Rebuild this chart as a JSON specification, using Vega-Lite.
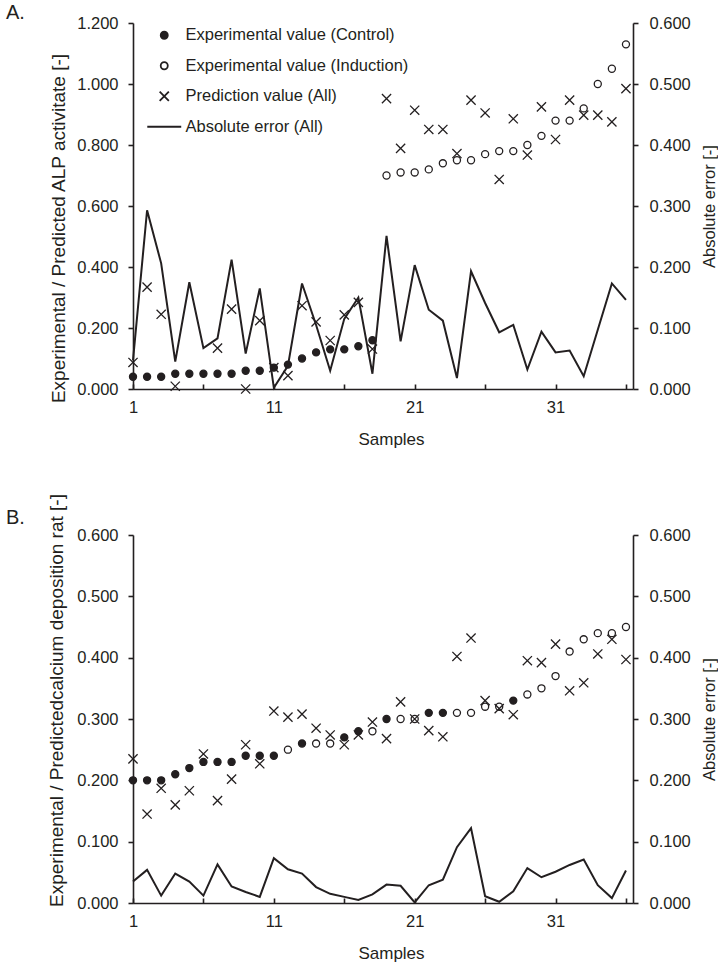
{
  "$schema": "https://vega.github.io/schema/vega-lite/v6.json",
  "padding": {"left": 5, "top": 3, "right": 0, "bottom": 0},
  "background": "white",
  "config": {
    "view": {"stroke": null},
    "font": "Liberation Sans",
    "axis": {
      "grid": false,
      "domainColor": "#231f20",
      "domainWidth": 1.6,
      "tickColor": "#231f20",
      "tickWidth": 1.6,
      "labelColor": "#231f20",
      "titleColor": "#231f20",
      "labelFont": "Liberation Sans",
      "titleFont": "Liberation Sans",
      "labelFontSize": 16.5,
      "titleFontSize": 17,
      "titleFontWeight": "normal",
      "labelFlush": false,
      "labelOverlap": false
    },
    "legend": {
      "orient": "none",
      "legendX": 23,
      "legendY": 4,
      "padding": 0,
      "labelFont": "Liberation Sans",
      "labelFontSize": 16.5,
      "labelColor": "#231f20",
      "labelLimit": 400,
      "labelOffset": 13,
      "rowPadding": 13.5,
      "symbolSize": 50,
      "symbolStrokeColor": "#231f20",
      "symbolStrokeWidth": 1.8
    },
    "title": {"font": "Liberation Sans", "fontSize": 20, "fontWeight": "normal", "color": "#231f20", "anchor": "start", "frame": "bounds"}
  },
  "datasets": {
    "A_points": [
      {"sample": 1, "series": "Experimental value (Control)", "value": 0.04},
      {"sample": 2, "series": "Experimental value (Control)", "value": 0.04},
      {"sample": 3, "series": "Experimental value (Control)", "value": 0.04},
      {"sample": 4, "series": "Experimental value (Control)", "value": 0.05},
      {"sample": 5, "series": "Experimental value (Control)", "value": 0.05},
      {"sample": 6, "series": "Experimental value (Control)", "value": 0.05},
      {"sample": 7, "series": "Experimental value (Control)", "value": 0.05},
      {"sample": 8, "series": "Experimental value (Control)", "value": 0.05},
      {"sample": 9, "series": "Experimental value (Control)", "value": 0.06},
      {"sample": 10, "series": "Experimental value (Control)", "value": 0.06},
      {"sample": 11, "series": "Experimental value (Control)", "value": 0.07},
      {"sample": 12, "series": "Experimental value (Control)", "value": 0.08},
      {"sample": 13, "series": "Experimental value (Control)", "value": 0.10},
      {"sample": 14, "series": "Experimental value (Control)", "value": 0.12},
      {"sample": 15, "series": "Experimental value (Control)", "value": 0.13},
      {"sample": 16, "series": "Experimental value (Control)", "value": 0.13},
      {"sample": 17, "series": "Experimental value (Control)", "value": 0.14},
      {"sample": 18, "series": "Experimental value (Control)", "value": 0.16},
      {"sample": 19, "series": "Experimental value (Induction)", "value": 0.70},
      {"sample": 20, "series": "Experimental value (Induction)", "value": 0.71},
      {"sample": 21, "series": "Experimental value (Induction)", "value": 0.71},
      {"sample": 22, "series": "Experimental value (Induction)", "value": 0.72},
      {"sample": 23, "series": "Experimental value (Induction)", "value": 0.74},
      {"sample": 24, "series": "Experimental value (Induction)", "value": 0.75},
      {"sample": 25, "series": "Experimental value (Induction)", "value": 0.75},
      {"sample": 26, "series": "Experimental value (Induction)", "value": 0.77},
      {"sample": 27, "series": "Experimental value (Induction)", "value": 0.78},
      {"sample": 28, "series": "Experimental value (Induction)", "value": 0.78},
      {"sample": 29, "series": "Experimental value (Induction)", "value": 0.80},
      {"sample": 30, "series": "Experimental value (Induction)", "value": 0.83},
      {"sample": 31, "series": "Experimental value (Induction)", "value": 0.88},
      {"sample": 32, "series": "Experimental value (Induction)", "value": 0.88},
      {"sample": 33, "series": "Experimental value (Induction)", "value": 0.92},
      {"sample": 34, "series": "Experimental value (Induction)", "value": 1.00},
      {"sample": 35, "series": "Experimental value (Induction)", "value": 1.05},
      {"sample": 36, "series": "Experimental value (Induction)", "value": 1.13},
      {"sample": 1, "series": "Prediction value (All)", "value": 0.087},
      {"sample": 2, "series": "Prediction value (All)", "value": 0.334},
      {"sample": 3, "series": "Prediction value (All)", "value": 0.245},
      {"sample": 4, "series": "Prediction value (All)", "value": 0.009},
      {"sample": 5, "series": "Prediction value (All)", "value": -0.125},
      {"sample": 6, "series": "Prediction value (All)", "value": -0.017},
      {"sample": 7, "series": "Prediction value (All)", "value": 0.134},
      {"sample": 8, "series": "Prediction value (All)", "value": 0.262},
      {"sample": 9, "series": "Prediction value (All)", "value": 0.0},
      {"sample": 10, "series": "Prediction value (All)", "value": 0.224},
      {"sample": 11, "series": "Prediction value (All)", "value": 0.07},
      {"sample": 12, "series": "Prediction value (All)", "value": 0.044},
      {"sample": 13, "series": "Prediction value (All)", "value": 0.273},
      {"sample": 14, "series": "Prediction value (All)", "value": 0.22},
      {"sample": 15, "series": "Prediction value (All)", "value": 0.159},
      {"sample": 16, "series": "Prediction value (All)", "value": 0.243},
      {"sample": 17, "series": "Prediction value (All)", "value": 0.284},
      {"sample": 18, "series": "Prediction value (All)", "value": 0.131},
      {"sample": 19, "series": "Prediction value (All)", "value": 0.952},
      {"sample": 20, "series": "Prediction value (All)", "value": 0.789},
      {"sample": 21, "series": "Prediction value (All)", "value": 0.914},
      {"sample": 22, "series": "Prediction value (All)", "value": 0.851},
      {"sample": 23, "series": "Prediction value (All)", "value": 0.851},
      {"sample": 24, "series": "Prediction value (All)", "value": 0.772},
      {"sample": 25, "series": "Prediction value (All)", "value": 0.947},
      {"sample": 26, "series": "Prediction value (All)", "value": 0.905},
      {"sample": 27, "series": "Prediction value (All)", "value": 0.687},
      {"sample": 28, "series": "Prediction value (All)", "value": 0.886},
      {"sample": 29, "series": "Prediction value (All)", "value": 0.767},
      {"sample": 30, "series": "Prediction value (All)", "value": 0.925},
      {"sample": 31, "series": "Prediction value (All)", "value": 0.818},
      {"sample": 32, "series": "Prediction value (All)", "value": 0.947},
      {"sample": 33, "series": "Prediction value (All)", "value": 0.898},
      {"sample": 34, "series": "Prediction value (All)", "value": 0.898},
      {"sample": 35, "series": "Prediction value (All)", "value": 0.876},
      {"sample": 36, "series": "Prediction value (All)", "value": 0.985}
    ],
    "A_error": [
      {"sample": 1, "error": 0.047}, {"sample": 2, "error": 0.293}, {"sample": 3, "error": 0.206},
      {"sample": 4, "error": 0.045}, {"sample": 5, "error": 0.175}, {"sample": 6, "error": 0.067},
      {"sample": 7, "error": 0.083}, {"sample": 8, "error": 0.212}, {"sample": 9, "error": 0.058},
      {"sample": 10, "error": 0.165}, {"sample": 11, "error": 0.002}, {"sample": 12, "error": 0.038},
      {"sample": 13, "error": 0.173}, {"sample": 14, "error": 0.105}, {"sample": 15, "error": 0.030},
      {"sample": 16, "error": 0.115}, {"sample": 17, "error": 0.150}, {"sample": 18, "error": 0.025},
      {"sample": 19, "error": 0.251}, {"sample": 20, "error": 0.078}, {"sample": 21, "error": 0.203},
      {"sample": 22, "error": 0.130}, {"sample": 23, "error": 0.112}, {"sample": 24, "error": 0.018},
      {"sample": 25, "error": 0.193}, {"sample": 26, "error": 0.141}, {"sample": 27, "error": 0.093},
      {"sample": 28, "error": 0.105}, {"sample": 29, "error": 0.032}, {"sample": 30, "error": 0.094},
      {"sample": 31, "error": 0.060}, {"sample": 32, "error": 0.063}, {"sample": 33, "error": 0.021},
      {"sample": 34, "error": 0.097}, {"sample": 35, "error": 0.173}, {"sample": 36, "error": 0.146}
    ],
    "B_points": [
      {"sample": 1, "series": "Experimental value (Control)", "value": 0.20},
      {"sample": 2, "series": "Experimental value (Control)", "value": 0.20},
      {"sample": 3, "series": "Experimental value (Control)", "value": 0.20},
      {"sample": 4, "series": "Experimental value (Control)", "value": 0.21},
      {"sample": 5, "series": "Experimental value (Control)", "value": 0.22},
      {"sample": 6, "series": "Experimental value (Control)", "value": 0.23},
      {"sample": 7, "series": "Experimental value (Control)", "value": 0.23},
      {"sample": 8, "series": "Experimental value (Control)", "value": 0.23},
      {"sample": 9, "series": "Experimental value (Control)", "value": 0.24},
      {"sample": 10, "series": "Experimental value (Control)", "value": 0.24},
      {"sample": 11, "series": "Experimental value (Control)", "value": 0.24},
      {"sample": 12, "series": "Experimental value (Induction)", "value": 0.25},
      {"sample": 13, "series": "Experimental value (Control)", "value": 0.26},
      {"sample": 14, "series": "Experimental value (Induction)", "value": 0.26},
      {"sample": 15, "series": "Experimental value (Induction)", "value": 0.26},
      {"sample": 16, "series": "Experimental value (Control)", "value": 0.27},
      {"sample": 17, "series": "Experimental value (Control)", "value": 0.28},
      {"sample": 18, "series": "Experimental value (Induction)", "value": 0.28},
      {"sample": 19, "series": "Experimental value (Control)", "value": 0.30},
      {"sample": 20, "series": "Experimental value (Induction)", "value": 0.30},
      {"sample": 21, "series": "Experimental value (Induction)", "value": 0.30},
      {"sample": 22, "series": "Experimental value (Control)", "value": 0.31},
      {"sample": 23, "series": "Experimental value (Control)", "value": 0.31},
      {"sample": 24, "series": "Experimental value (Induction)", "value": 0.31},
      {"sample": 25, "series": "Experimental value (Induction)", "value": 0.31},
      {"sample": 26, "series": "Experimental value (Induction)", "value": 0.32},
      {"sample": 27, "series": "Experimental value (Induction)", "value": 0.32},
      {"sample": 28, "series": "Experimental value (Control)", "value": 0.33},
      {"sample": 29, "series": "Experimental value (Induction)", "value": 0.34},
      {"sample": 30, "series": "Experimental value (Induction)", "value": 0.35},
      {"sample": 31, "series": "Experimental value (Induction)", "value": 0.37},
      {"sample": 32, "series": "Experimental value (Induction)", "value": 0.41},
      {"sample": 33, "series": "Experimental value (Induction)", "value": 0.43},
      {"sample": 34, "series": "Experimental value (Induction)", "value": 0.44},
      {"sample": 35, "series": "Experimental value (Induction)", "value": 0.44},
      {"sample": 36, "series": "Experimental value (Induction)", "value": 0.45},
      {"sample": 1, "series": "Prediction value (All)", "value": 0.235},
      {"sample": 2, "series": "Prediction value (All)", "value": 0.145},
      {"sample": 3, "series": "Prediction value (All)", "value": 0.187},
      {"sample": 4, "series": "Prediction value (All)", "value": 0.160},
      {"sample": 5, "series": "Prediction value (All)", "value": 0.183},
      {"sample": 6, "series": "Prediction value (All)", "value": 0.243},
      {"sample": 7, "series": "Prediction value (All)", "value": 0.167},
      {"sample": 8, "series": "Prediction value (All)", "value": 0.202},
      {"sample": 9, "series": "Prediction value (All)", "value": 0.258},
      {"sample": 10, "series": "Prediction value (All)", "value": 0.227},
      {"sample": 11, "series": "Prediction value (All)", "value": 0.313},
      {"sample": 12, "series": "Prediction value (All)", "value": 0.303},
      {"sample": 13, "series": "Prediction value (All)", "value": 0.308},
      {"sample": 14, "series": "Prediction value (All)", "value": 0.285},
      {"sample": 15, "series": "Prediction value (All)", "value": 0.274},
      {"sample": 16, "series": "Prediction value (All)", "value": 0.258},
      {"sample": 17, "series": "Prediction value (All)", "value": 0.274},
      {"sample": 18, "series": "Prediction value (All)", "value": 0.295},
      {"sample": 19, "series": "Prediction value (All)", "value": 0.268},
      {"sample": 20, "series": "Prediction value (All)", "value": 0.328},
      {"sample": 21, "series": "Prediction value (All)", "value": 0.300},
      {"sample": 22, "series": "Prediction value (All)", "value": 0.281},
      {"sample": 23, "series": "Prediction value (All)", "value": 0.271},
      {"sample": 24, "series": "Prediction value (All)", "value": 0.402},
      {"sample": 25, "series": "Prediction value (All)", "value": 0.432},
      {"sample": 26, "series": "Prediction value (All)", "value": 0.330},
      {"sample": 27, "series": "Prediction value (All)", "value": 0.317},
      {"sample": 28, "series": "Prediction value (All)", "value": 0.307},
      {"sample": 29, "series": "Prediction value (All)", "value": 0.395},
      {"sample": 30, "series": "Prediction value (All)", "value": 0.392},
      {"sample": 31, "series": "Prediction value (All)", "value": 0.422},
      {"sample": 32, "series": "Prediction value (All)", "value": 0.346},
      {"sample": 33, "series": "Prediction value (All)", "value": 0.359},
      {"sample": 34, "series": "Prediction value (All)", "value": 0.406},
      {"sample": 35, "series": "Prediction value (All)", "value": 0.430},
      {"sample": 36, "series": "Prediction value (All)", "value": 0.397}
    ],
    "B_error": [
      {"sample": 1, "error": 0.035}, {"sample": 2, "error": 0.054}, {"sample": 3, "error": 0.012},
      {"sample": 4, "error": 0.048}, {"sample": 5, "error": 0.035}, {"sample": 6, "error": 0.012},
      {"sample": 7, "error": 0.063}, {"sample": 8, "error": 0.027}, {"sample": 9, "error": 0.018},
      {"sample": 10, "error": 0.010}, {"sample": 11, "error": 0.073}, {"sample": 12, "error": 0.055},
      {"sample": 13, "error": 0.048}, {"sample": 14, "error": 0.026}, {"sample": 15, "error": 0.015},
      {"sample": 16, "error": 0.010}, {"sample": 17, "error": 0.005}, {"sample": 18, "error": 0.014},
      {"sample": 19, "error": 0.030}, {"sample": 20, "error": 0.028}, {"sample": 21, "error": 0.001},
      {"sample": 22, "error": 0.029}, {"sample": 23, "error": 0.038}, {"sample": 24, "error": 0.091},
      {"sample": 25, "error": 0.122}, {"sample": 26, "error": 0.011}, {"sample": 27, "error": 0.002},
      {"sample": 28, "error": 0.019}, {"sample": 29, "error": 0.057}, {"sample": 30, "error": 0.042},
      {"sample": 31, "error": 0.051}, {"sample": 32, "error": 0.062}, {"sample": 33, "error": 0.071},
      {"sample": 34, "error": 0.029}, {"sample": 35, "error": 0.008}, {"sample": 36, "error": 0.053}
    ]
  },
  "spacing": 45,
  "vconcat": [
    {
      "width": 500,
      "height": 366,
      "title": {"text": "A.", "dx": -43, "offset": -8},
      "layer": [
        {
          "data": {"name": "A_points"},
          "transform": [{"filter": "datum.value >= -0.005"}],
          "mark": {"type": "point", "filled": true, "size": 50, "strokeWidth": 1.3, "opacity": 1},
          "encoding": {
            "x": {"field": "sample", "type": "quantitative",
              "scale": {"domain": [1, 36.5], "nice": false, "zero": false},
              "axis": {"values": [1, 6, 11, 16, 21, 26, 31, 36], "labelExpr": "datum.value % 10 == 1 ? datum.label : ''", "tickSize": -5, "labelPadding": 15, "title": "Samples", "titleX": 258, "titlePadding": 16}},
            "y": {"field": "value", "type": "quantitative",
              "scale": {"domain": [0, 1.2], "nice": false},
              "axis": {"values": [0, 0.2, 0.4, 0.6, 0.8, 1.0, 1.2], "format": ".3f", "tickSize": 5, "labelPadding": 10, "title": "Experimental / Predicted ALP activitate [-]", "titleFontSize": 19, "titleX": -75, "titleY": 205, "titleBaseline": "middle", "titleAngle": -90}},
            "shape": {"field": "series", "type": "nominal",
              "scale": {"domain": ["Experimental value (Control)", "Experimental value (Induction)", "Prediction value (All)", "Absolute error (All)"],
                "range": ["circle", "circle", "M-1.3,-1.3L1.3,1.3M-1.3,1.3L1.3,-1.3", "M-4.8,0H4.8"]},
              "legend": {"title": null}},
            "fill": {"field": "series", "type": "nominal",
              "scale": {"domain": ["Experimental value (Control)", "Experimental value (Induction)", "Prediction value (All)", "Absolute error (All)"],
                "range": ["#231f20", "transparent", "transparent", "transparent"]},
              "legend": {"title": null}},
            "stroke": {"field": "series", "type": "nominal",
              "scale": {"domain": ["Experimental value (Control)", "Experimental value (Induction)", "Prediction value (All)", "Absolute error (All)"],
                "range": ["#231f20", "#231f20", "#231f20", "#231f20"]},
              "legend": {"title": null}}
          }
        },
        {
          "data": {"name": "A_error"},
          "mark": {"type": "line", "color": "#231f20", "strokeWidth": 2},
          "encoding": {
            "x": {"field": "sample", "type": "quantitative"},
            "y": {"field": "error", "type": "quantitative",
              "scale": {"domain": [0, 0.6], "nice": false},
              "axis": {"orient": "right", "values": [0, 0.1, 0.2, 0.3, 0.4, 0.5, 0.6], "format": ".3f", "tickSize": 5, "labelPadding": 11, "title": "Absolute error [-]", "titleFontSize": 16.5, "titleX": 76, "titleY": 183, "titleBaseline": "middle", "titleAngle": -90}}
          }
        }
      ],
      "resolve": {"scale": {"y": "independent"}}
    },
    {
      "width": 500,
      "height": 368,
      "title": {"text": "B.", "dx": -41, "offset": -34},
      "layer": [
        {
          "data": {"name": "B_points"},
          "mark": {"type": "point", "filled": true, "size": 50, "strokeWidth": 1.3, "opacity": 1},
          "encoding": {
            "x": {"field": "sample", "type": "quantitative",
              "scale": {"domain": [1, 36.5], "nice": false, "zero": false},
              "axis": {"values": [1, 6, 11, 16, 21, 26, 31, 36], "labelExpr": "datum.value % 10 == 1 ? datum.label : ''", "tickSize": -5, "labelPadding": 15, "title": "Samples", "titleX": 258, "titlePadding": 16}},
            "y": {"field": "value", "type": "quantitative",
              "scale": {"domain": [0, 0.6], "nice": false},
              "axis": {"values": [0, 0.1, 0.2, 0.3, 0.4, 0.5, 0.6], "format": ".3f", "tickSize": 5, "labelPadding": 10, "title": "Experimental / Predictedcalcium deposition rat [-]", "titleFontSize": 19, "titleX": -77, "titleY": 165, "titleBaseline": "middle", "titleAngle": -90}},
            "shape": {"field": "series", "type": "nominal",
              "scale": {"domain": ["Experimental value (Control)", "Experimental value (Induction)", "Prediction value (All)", "Absolute error (All)"],
                "range": ["circle", "circle", "M-1.3,-1.3L1.3,1.3M-1.3,1.3L1.3,-1.3", "M-4.8,0H4.8"]},
              "legend": {"title": null}},
            "fill": {"field": "series", "type": "nominal",
              "scale": {"domain": ["Experimental value (Control)", "Experimental value (Induction)", "Prediction value (All)", "Absolute error (All)"],
                "range": ["#231f20", "transparent", "transparent", "transparent"]},
              "legend": {"title": null}},
            "stroke": {"field": "series", "type": "nominal",
              "scale": {"domain": ["Experimental value (Control)", "Experimental value (Induction)", "Prediction value (All)", "Absolute error (All)"],
                "range": ["#231f20", "#231f20", "#231f20", "#231f20"]},
              "legend": {"title": null}}
          }
        },
        {
          "data": {"name": "B_error"},
          "mark": {"type": "line", "color": "#231f20", "strokeWidth": 2},
          "encoding": {
            "x": {"field": "sample", "type": "quantitative"},
            "y": {"field": "error", "type": "quantitative",
              "scale": {"domain": [0, 0.6], "nice": false},
              "axis": {"orient": "right", "values": [0, 0.1, 0.2, 0.3, 0.4, 0.5, 0.6], "format": ".3f", "tickSize": 5, "labelPadding": 11, "title": "Absolute error [-]", "titleFontSize": 16.5, "titleX": 76, "titleY": 184, "titleBaseline": "middle", "titleAngle": -90}}
          }
        }
      ],
      "resolve": {"scale": {"y": "independent"}}
    }
  ]
}
